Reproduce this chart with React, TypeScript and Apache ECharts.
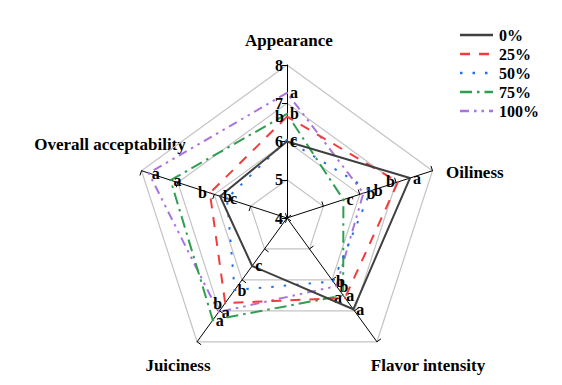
import React, { useEffect, useRef } from "react";
import * as echarts from "echarts";

// Indicators in clockwise visual order starting from the top
const indicators = ["Appearance", "Oiliness", "Flavor intensity", "Juiciness", "Overall acceptability"];
const seriesNames = ["0%", "25%", "50%", "75%", "100%"];

// Values per series, same order as indicators
const values0 = [6.0, 7.38, 6.95, 5.55, 5.84];
const values25 = [6.65, 7.05, 6.58, 6.75, 6.12];
const values50 = [6.04, 6.3, 6.05, 6.33, 5.65];
const values75 = [6.72, 5.55, 6.5, 7.3, 7.2];
const values100 = [7.27, 6.1, 6.2, 7.04, 7.8];

// Significance letters per series, same order as indicators
const letters0 = ["c", "a", "a", "c", "b"];
const letters25 = ["b", "b", "a", "b", "b"];
const letters50 = ["c", "b", "b", "b", "c"];
const letters75 = ["b", "c", "a", "a", "a"];
const letters100 = ["a", "b", "b", "a", "a"];

const axisMin = 4;
const axisMax = 8;
const axisInterval = 1;

const allValues = [values0, values25, values50, values75, values100];
const allLetters = [letters0, letters25, letters50, letters75, letters100];

const colors = ["#404040", "#f23c3c", "#2470e0", "#2e9e50", "#a873e0"];
const dashes: any[] = ["solid", [10, 9], [2.5, 10], [12, 5, 2.5, 5], [9, 5, 2.5, 5, 2.5, 5]];
const labelSides = ["right", "left", "right", "right", "right"];

// ECharts lays indicators counter-clockwise; reorder for a clockwise look
const ecOrder = [0, 4, 3, 2, 1];

const FONT = '"Liberation Serif", "Times New Roman", serif';

export default function App() {
  const ref = useRef<HTMLDivElement>(null);
  useEffect(() => {
    if (!ref.current) return;
    const chart = echarts.init(ref.current, null, { renderer: "svg" });
    const cx = 287;
    const cy = 218;
    const radius = 153;

    const series = seriesNames.map((name, s) => {
      const vals = ecOrder.map((i) => allValues[s][i]);
      const lets = ecOrder.map((i) => allLetters[s][i]);
      return {
        type: "radar",
        name,
        symbol: "circle",
        symbolSize: 2,
        z: 5 - s + 2,
        lineStyle: { color: colors[s], width: 2, type: dashes[s] },
        itemStyle: { color: colors[s] },
        label: {
          show: true,
          position: labelSides[s],
          distance: 2,
          color: "#000",
          fontFamily: FONT,
          fontWeight: "bold",
          fontSize: 16,
          formatter: (p: any) => {
            const v = Array.isArray(p.value) ? p.value[0] : p.value;
            const idx = vals.indexOf(v);
            return idx >= 0 ? lets[idx] : "";
          },
        },
        data: [{ name, value: vals }],
      };
    });

    const legendItems: any[] = [];
    seriesNames.forEach((name, s) => {
      const y = 35 + s * 19;
      legendItems.push({
        type: "line",
        shape: { x1: 460, y1: y, x2: 493, y2: y },
        style: { stroke: colors[s], lineWidth: 2.5, lineDash: dashes[s] === "solid" ? null : dashes[s] },
      });
      legendItems.push({
        type: "text",
        x: 499,
        y,
        style: {
          text: name,
          fill: "#000",
          font: `bold 16px ${FONT}`,
          align: "left",
          verticalAlign: "middle",
        },
      });
    });

    const nameText = (text: string, x: number, y: number, align: string) => ({
      type: "text",
      x,
      y,
      style: { text, fill: "#000", font: `bold 17px ${FONT}`, align, verticalAlign: "middle" },
    });

    chart.setOption({
      animation: false,
      backgroundColor: "#fff",
      radar: {
        center: [cx, cy],
        radius,
        startAngle: 90,
        shape: "polygon",
        splitNumber: (axisMax - axisMin) / axisInterval,
        indicator: ecOrder.map((i) => ({ name: indicators[i], min: axisMin, max: axisMax })),
        axisName: { show: false },
        axisLine: { show: true, lineStyle: { color: "#000", width: 1 } },
        axisTick: { show: true, length: 5, lineStyle: { color: "#000" } },
        axisLabel: { show: false },
        splitLine: { lineStyle: { color: "#c4c4c4", width: 1.2 } },
        splitArea: { show: false },
      },
      polar: { center: [cx, cy], radius },
      angleAxis: { type: "value", startAngle: 90, show: false, min: 0, max: 360 },
      radiusAxis: {
        type: "value",
        min: axisMin,
        max: axisMax,
        interval: axisInterval,
        axisLine: { show: false },
        axisTick: { show: false },
        splitLine: { show: false },
        axisLabel: {
          show: true,
          color: "#000",
          fontFamily: FONT,
          fontWeight: "bold",
          fontSize: 16,
          margin: 4,
        },
        z: 10,
      },
      graphic: [
        ...legendItems,
        nameText(indicators[0], 289, 40, "center"),
        nameText(indicators[1], 446, 172, "left"),
        nameText(indicators[2], 428, 365, "center"),
        nameText(indicators[3], 178, 365, "center"),
        nameText(indicators[4], 110, 144, "center"),
      ],
      series,
    });
    return () => chart.dispose();
  }, []);
  return (
    <div
      ref={ref}
      style={{ position: "fixed", left: 0, top: 0, width: 562, height: 385, background: "#fff" }}
    />
  );
}
